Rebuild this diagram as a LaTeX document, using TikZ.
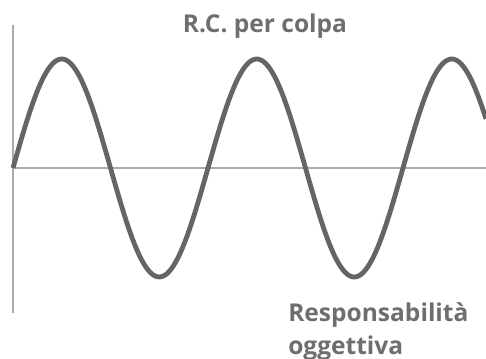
\documentclass[tikz,border=0pt]{standalone}
\usepackage{fontspec}
\setmainfont{Open Sans}
\usepackage{tikz}
\usetikzlibrary{positioning}
\definecolor{axisgrey}{HTML}{ABABAB}
\definecolor{waveink}{HTML}{656565}
\definecolor{labelink}{HTML}{6E6E6E}
\tikzset{
  waxis/.style={draw=axisgrey, line width=2.2pt},
  wcurve/.style={draw=waveink, line width=3.6pt, line join=round},
  wlabel/.style={font=\fontsize{18.4}{25}\selectfont\bfseries, text=labelink, align=left, inner sep=0pt},
}

\begin{document}
\begin{tikzpicture}[x=0.75pt, y=-0.75pt]
  \useasboundingbox (0,0) rectangle (486,359);
  \coordinate (origin) at (13,168);
  \coordinate (ytop) at (13,25);
  \coordinate (ybot) at (13,313);
  \coordinate (xend) at (486,168);
  \draw[waxis] (ytop) -- (ybot);
  \draw[waxis] (origin) -- (xend);
  % one period = 195 px
  \draw[wcurve] plot[domain=13:486, samples=240, smooth] (\x, {168 - 109*sin(1.84615*(\x-13))});
  \node[wlabel, anchor=base] (colpa) at (265,33) {R.C. per colpa};
  \node[wlabel, anchor=base west] (oggettiva) at (288,355) {Responsabilità\\oggettiva};
\end{tikzpicture}
\end{document}
